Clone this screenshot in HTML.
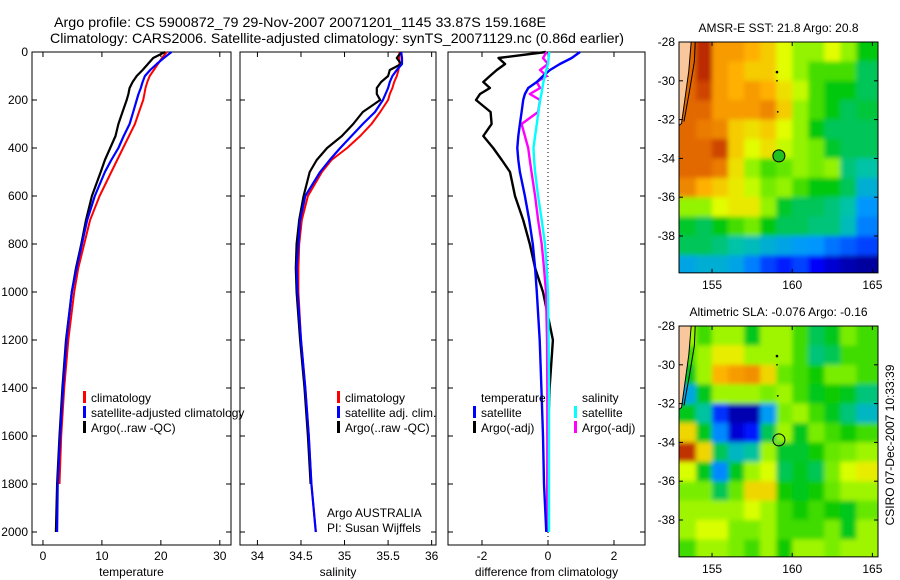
<!DOCTYPE html>
<html><head><meta charset="utf-8">
<style>
html,body{margin:0;padding:0;background:#fff;}
svg{display:block;font-family:"Liberation Sans",sans-serif;}
text{fill:#000;}
</style></head>
<body>
<svg id="fig" width="900" height="580" viewBox="0 0 900 580" xmlns="http://www.w3.org/2000/svg">
<defs><filter id="blur" x="-10%" y="-10%" width="120%" height="120%"><feGaussianBlur stdDeviation="2.5"/></filter></defs>
<text x="54" y="27" font-size="14" textLength="492" lengthAdjust="spacingAndGlyphs">Argo profile: CS 5900872_79 29-Nov-2007 20071201_1145 33.87S 159.168E</text>
<text x="50" y="43" font-size="14" textLength="574" lengthAdjust="spacingAndGlyphs">Climatology: CARS2006. Satellite-adjusted climatology: synTS_20071129.nc (0.86d earlier)</text>
<g id="plots"></g>
</svg>
<script>
// ---------- profile data ----------
const depths = [0,25,50,75,100,125,150,175,200,250,300,350,400,450,500,600,700,800,900,1000,1200,1400,1600,1800,2000];
const tempClim = [21.0,20.2,19.5,18.8,18.1,17.7,17.4,17.2,17.0,16.3,15.6,14.6,13.6,12.6,11.6,9.6,8.0,7.0,6.0,5.3,4.3,3.6,3.1,2.8,null];
const tempSat  = [21.8,20.5,19.3,18.2,17.3,16.9,16.6,16.2,15.9,15.3,14.7,13.7,12.8,11.6,10.5,8.8,7.5,6.6,5.7,4.9,4.0,3.4,2.9,2.5,2.4];
const tempArgo = [20.7,18.7,17.8,16.9,15.9,15.2,14.7,14.5,14.2,13.5,12.8,12.3,11.4,10.5,9.8,8.3,7.3,6.5,5.6,4.9,3.9,3.3,2.8,2.4,2.2];
const salClim = [35.63,35.63,35.63,35.62,35.6,35.57,35.55,35.52,35.5,35.41,35.31,35.18,35.03,34.85,34.74,34.58,34.51,34.48,34.47,34.47,34.5,34.55,34.59,34.62,34.67];
const salSat  = [35.65,35.66,35.66,35.6,35.55,35.52,35.5,35.47,35.44,35.35,35.21,35.08,34.95,34.83,34.72,34.55,34.49,34.47,34.45,34.46,34.5,34.55,34.59,34.62,34.67];
const salArgo = [35.65,35.6,35.65,35.52,35.5,35.42,35.37,35.37,35.41,35.21,35.1,34.97,34.8,34.68,34.6,34.53,34.48,34.45,34.44,34.45,34.49,34.54,34.58,34.61,null];
const dTempSat  = [0.97,0.72,0.36,0.06,-0.15,-0.34,-0.6,-0.7,-0.75,-0.8,-0.85,-0.9,-0.93,-0.9,-0.85,-0.7,-0.57,-0.46,-0.39,-0.34,-0.25,-0.2,-0.15,-0.12,-0.05];
const dTempArgo = [-0.06,-1.5,-1.3,-1.55,-1.76,-1.96,-1.76,-2.06,-2.18,-1.74,-1.71,-1.96,-1.66,-1.4,-1.15,-1.0,-0.75,-0.55,-0.39,-0.15,0.15,0.05,0.0,-0.02,-0.03];
const dSalSat  = [0.04,0.02,0,-0.05,-0.09,-0.14,-0.17,-0.2,-0.24,-0.29,-0.34,-0.39,-0.44,-0.42,-0.39,-0.3,-0.19,-0.09,-0.04,0,0.02,0.03,0.03,0.03,0.03];
const dSalArgo = [-0.04,-0.15,0,-0.24,-0.04,-0.34,-0.24,-0.55,-0.24,-0.3,-0.8,-0.7,-0.6,-0.55,-0.5,-0.39,-0.3,-0.19,-0.12,-0.06,-0.03,-0.02,-0.02,-0.02,-0.02];
const depthTicks = [0,200,400,600,800,1000,1200,1400,1600,1800,2000];
const tempTicks = [0,10,20,30];
const salTicks = [34,34.5,35,35.5,36];
const diffTicks = [-2,0,2];
// ---------- map data ----------
const mapLons = [153,154,155,156,157,158,159,160,161,162,163,164];
const mapLats = [-28,-29,-30,-31,-32,-33,-34,-35,-36,-37,-38,-39];
const lonTicks = [155,160,165];
const latTicks = [-28,-30,-32,-34,-36,-38];
const sstGrid = [
[23.5,24,23,23,22.8,22.5,22,21.5,21.5,22,21.5,20.5],
[23.5,24,23,22.8,22.5,22.5,22,21.5,21,21,21,20],
[23.5,23.8,23,22.8,23,22.8,22.3,21.8,21,20.5,20.5,20],
[23.5,23.5,23,23,23,23.2,22.5,21.5,21,20.5,20,20.2],
[23.5,23.3,23.2,22.5,22.3,22.5,22,21.5,20.5,20,20,20],
[23.5,23.5,23.8,22.5,22,22.3,21.8,21.5,21.3,20.3,20,20],
[23.5,23.5,23.3,22.3,21.5,21,21.2,21.5,21.3,21.5,19.8,19.5],
[23.2,22.8,22.5,22.2,21.8,21.3,21.5,21,20.5,20.5,20,19],
[21.5,21.5,22,22.2,22.2,21.5,20.3,20,20,19.8,19.5,18.5],
[20.3,20,20.5,21,21.3,20.5,20,20,19.8,19.8,19.3,18.3],
[20,20,19.8,19.5,19.3,19,18.8,18.6,18.5,18.2,18,17.8],
[18.8,19,19,18.8,18.3,17.8,17.5,17.8,17.2,16.8,16.5,16.3]];
const slaGrid = [
[0.05,0.0,0.05,0.05,-0.05,0.05,0.05,0.0,-0.08,-0.05,0.03,0.0],
[0,0.05,0.1,0.1,0.05,0.05,0.05,0.0,-0.1,-0.08,0,0],
[-0.05,0.05,0.15,0.17,0.18,0.12,0.02,0.0,-0.03,0.03,0.03,0.0],
[-0.18,-0.05,0.05,0.05,0.05,0.03,0.05,0.0,-0.05,-0.03,-0.05,-0.1],
[-0.05,-0.12,-0.28,-0.38,-0.38,-0.2,0.03,0.05,0.0,-0.05,-0.1,-0.15],
[0.12,-0.05,-0.22,-0.35,-0.3,-0.08,0.05,-0.05,0.03,0.0,-0.03,0.0],
[0.25,0.12,-0.08,-0.15,-0.12,0.05,-0.06,-0.06,-0.03,0.02,0.03,0.05],
[0.08,-0.05,-0.22,-0.05,0.05,0.08,-0.08,-0.05,-0.08,0.03,0.08,0.1],
[0.03,0.03,-0.08,0.02,0.12,0.12,-0.03,-0.05,-0.03,0.02,0.05,0.05],
[0.05,0.05,0.05,0.05,0.08,0.05,0.0,-0.03,0.0,-0.03,-0.05,0.02],
[0.05,0.08,0.08,0.03,0.03,0.05,0.0,0.0,0.0,0.03,-0.05,0.05],
[0,0.05,0.05,0.03,0.0,0.05,-0.03,0.05,0.05,0.03,0.05,0.05]];
const argoLon = 159.17, argoLat = -33.87;

const NS='http://www.w3.org/2000/svg';
const root=document.getElementById('plots');
function mk(tag,attrs,parent){const e=document.createElementNS(NS,tag);for(const k in attrs)e.setAttribute(k,attrs[k]);(parent||root).appendChild(e);return e;}
function txt(s,attrs,parent){const e=mk('text',attrs,parent);e.textContent=s;return e;}

const y0=52, yScale=0.24;
function yD(d){return y0+d*yScale;}
const plotTop=52, plotBot=545;

function panel(name,left,right,vmin,vmax,ticks,label,showY,series){
  const g=mk('g',{});
  
  
  const x=v=>left+(v-vmin)/(vmax-vmin)*(right-left);
  const box=mk('rect',{x:left,y:plotTop,width:right-left,height:plotBot-plotTop,fill:'#fff',stroke:'#000','stroke-width':1},g);
  
  
  ticks.forEach(t=>{
    const xx=x(t);
    mk('line',{x1:xx,x2:xx,y1:plotBot,y2:plotBot-5,stroke:'#000'},g);
    mk('line',{x1:xx,x2:xx,y1:plotTop,y2:plotTop+5,stroke:'#000'},g);
    const tl=txt(String(t),{x:xx,y:560,'font-size':12,'text-anchor':'middle'},g);
    
    
  });
  depthTicks.forEach(d=>{
    const yy=yD(d);
    mk('line',{x1:left,x2:left+5,y1:yy,y2:yy,stroke:'#000'},g);
    mk('line',{x1:right,x2:right-5,y1:yy,y2:yy,stroke:'#000'},g);
    if(showY){const tl=txt(String(d),{x:left-4,y:yy+4,'font-size':12,'text-anchor':'end'},g);
      
      }
  });
  const xl=txt(label,{x:(left+right)/2,y:576,'font-size':12,'text-anchor':'middle'},g);
  
  
  series.forEach(s=>{
    if(s.zero){mk('line',{x1:x(0),x2:x(0),y1:plotTop,y2:plotBot,stroke:'#000','stroke-dasharray':'1,3'},g);}
    let d='';let pen=false;
    s.vals.forEach((v,i)=>{ if(v===null){pen=false;return;} d+=(pen?'L':'M')+x(v).toFixed(1)+','+yD(depths[i]).toFixed(1); pen=true;});
    const p=mk('path',{d:d,fill:'none',stroke:s.color,'stroke-width':s.w||2,'stroke-linejoin':'round'},g);
    
    
  });
  return g;
}
panel('temperature-panel',32,231,-1.86,31.9,tempTicks,'temperature',true,[
  {vals:tempClim,color:'#f00',name:'temp-climatology-line'},
  {vals:tempArgo,color:'#000',name:'temp-argo-line',w:2.2},
  {vals:tempSat,color:'#00f',name:'temp-satellite-line',w:2.2}]);
panel('salinity-panel',240,436,33.8,36.05,salTicks,'salinity',false,[
  {vals:salClim,color:'#f00',name:'sal-climatology-line'},
  {vals:salArgo,color:'#000',name:'sal-argo-line',w:2.2},
  {vals:salSat,color:'#00f',name:'sal-satellite-line',w:2.2}]);
panel('difference-panel',448,645,-3.03,2.94,diffTicks,'difference from climatology',false,[
  {vals:dTempArgo,color:'#000',name:'dtemp-argo-line',w:2.4,zero:true},
  {vals:dSalArgo,color:'#f0f',name:'dsal-argo-line',w:2.4},
  {vals:dTempSat,color:'#00f',name:'dtemp-satellite-line',w:2.4},
  {vals:dSalSat,color:'#0ff',name:'dsal-satellite-line',w:2.4}]);

function legend(name,x,rows){
  rows.forEach((r,i)=>{
    const y=397+i*15;
    if(r.c){const m=mk('rect',{x:x,y:y-6,width:3,height:12,fill:r.c});
      
      }
    const t=txt(r.t,{x:x+8,y:y+5,'font-size':12});
    
    
  });
}
legend('temp-legend',83,[{c:'#f00',t:'climatology'},{c:'#00f',t:'satellite-adjusted climatology'},{c:'#000',t:'Argo(..raw -QC)'}]);
legend('sal-legend',337,[{c:'#f00',t:'climatology'},{c:'#00f',t:'satellite adj. clim.'},{c:'#000',t:'Argo(..raw -QC)'}]);
legend('diff-temp-legend',473,[{c:null,t:'temperature'},{c:'#00f',t:'satellite'},{c:'#000',t:'Argo(-adj)'}]);
legend('diff-sal-legend',574,[{c:null,t:'salinity'},{c:'#0ff',t:'satellite'},{c:'#f0f',t:'Argo(-adj)'}]);
const a1=txt('Argo AUSTRALIA',{x:327,y:517,'font-size':12});

const a2=txt('PI: Susan Wijffels',{x:327,y:532,'font-size':12});


// ---------- colormap ----------
const cstops=[[0,[0,0,128]],[0.15,[0,0,255]],[0.3,[0,150,255]],[0.42,[0,195,170]],[0.55,[0,200,0]],[0.65,[130,240,0]],[0.72,[225,255,0]],[0.82,[255,175,0]],[0.92,[220,90,0]],[1,[160,0,0]]];
function cmap(t){t=Math.max(0,Math.min(1,t));for(let i=1;i<cstops.length;i++){if(t<=cstops[i][0]){const a=cstops[i-1],b=cstops[i];const f=(t-a[0])/(b[0]-a[0]);const c=a[1].map((v,k)=>Math.round(v+(b[1][k]-v)*f));return 'rgb('+c.join(',')+')';}}return 'rgb(160,0,0)';}

function mapPanel(name,top,grid,vmin,vmax,title,fillMarker){
  const L=679,R=878,lon0=152.94,lon1=165.35;
  const lat0=-28, pxDeg=19.4;
  const bot=top+11.9*pxDeg;
  const X=lon=>L+(lon-lon0)/(lon1-lon0)*(R-L);
  const Y=lat=>top+(lat0-lat)*pxDeg;
  const g=mk('g',{});
  
  
  const cid='clip-'+name;
  const cp=mk('clipPath',{id:cid},g);mk('rect',{x:L,y:top,width:R-L,height:bot-top},cp);
  const cg=mk('g',{'clip-path':'url(#'+cid+')'},g);
  const bg=mk('g',{filter:'url(#blur)'},cg);
  grid.forEach((row,i)=>row.forEach((v,j)=>{
    const lonA=mapLons[j]-(j===0?1:0), lonB=mapLons[j]+1+(j===row.length-1?1:0);
    const latA=mapLats[i]+(i===0?1:0), latB=mapLats[i]-1-(i===grid.length-1?1:0);
    const r=mk('rect',{x:X(lonA),y:Y(latA),width:X(lonB)-X(lonA)+0.5,height:Y(latB)-Y(latA)+0.5,fill:cmap((v-vmin)/(vmax-vmin))},bg);
    
    
  }));
  const land=mk('path',{d:`M${L},${top} L${X(153.7)},${top} L${X(153.55)},${Y(-29.5)} L${X(153.3)},${Y(-31)} L${X(153.1)},${Y(-32.2)} L${L},${Y(-32.3)} Z`,fill:'#f8c89c',stroke:'#000','stroke-width':1},cg);
  
  mk('path',{d:`M${X(153.95)},${top} L${X(153.9)},${Y(-29)} L${X(153.6)},${Y(-30.5)} L${X(153.25)},${Y(-32.1)}`,fill:'none',stroke:'#000','stroke-width':1},cg);
  mk('circle',{cx:X(159.05),cy:Y(-29.55),r:1.3,fill:'#000'},cg);
  mk('circle',{cx:X(159.05),cy:Y(-30),r:0.8,fill:'#000'},cg);
  mk('circle',{cx:X(159.1),cy:Y(-31.6),r:0.9,fill:'#000'},cg);
  const m=mk('circle',{cx:X(argoLon),cy:Y(argoLat),r:6,fill:fillMarker,stroke:'#000','stroke-width':1},g);
  
  const fr=mk('rect',{x:L,y:top,width:R-L,height:bot-top,fill:'none',stroke:'#000'},g);
  
  lonTicks.forEach(t=>{const xx=X(t);mk('line',{x1:xx,x2:xx,y1:bot,y2:bot-4,stroke:'#000'},g);mk('line',{x1:xx,x2:xx,y1:top,y2:top+4,stroke:'#000'},g);
    const tl=txt(String(t),{x:xx,y:bot+16,'font-size':12,'text-anchor':'middle'},g);
    });
  latTicks.forEach(t=>{const yy=Y(t);mk('line',{x1:L,x2:L+4,y1:yy,y2:yy,stroke:'#000'},g);mk('line',{x1:R,x2:R-4,y1:yy,y2:yy,stroke:'#000'},g);
    const tl=txt(String(t),{x:L-4,y:yy+4,'font-size':12,'text-anchor':'end'},g);
    });
  const tt=txt(title,{x:(L+R)/2,y:top-10,'font-size':12,'text-anchor':'middle'},g);
  
}
mapPanel('sst-map',42,sstGrid,16,24.3,'AMSR-E SST: 21.8 Argo: 20.8','#20c020');
mapPanel('sla-map',326,slaGrid,-0.42,0.28,'Altimetric SLA: -0.076 Argo: -0.16','none');
const cs=txt('CSIRO 07-Dec-2007 10:33:39',{x:0,y:0,'font-size':12,'text-anchor':'middle',transform:'translate(894,445) rotate(-90)'});

</script>
</body></html>
